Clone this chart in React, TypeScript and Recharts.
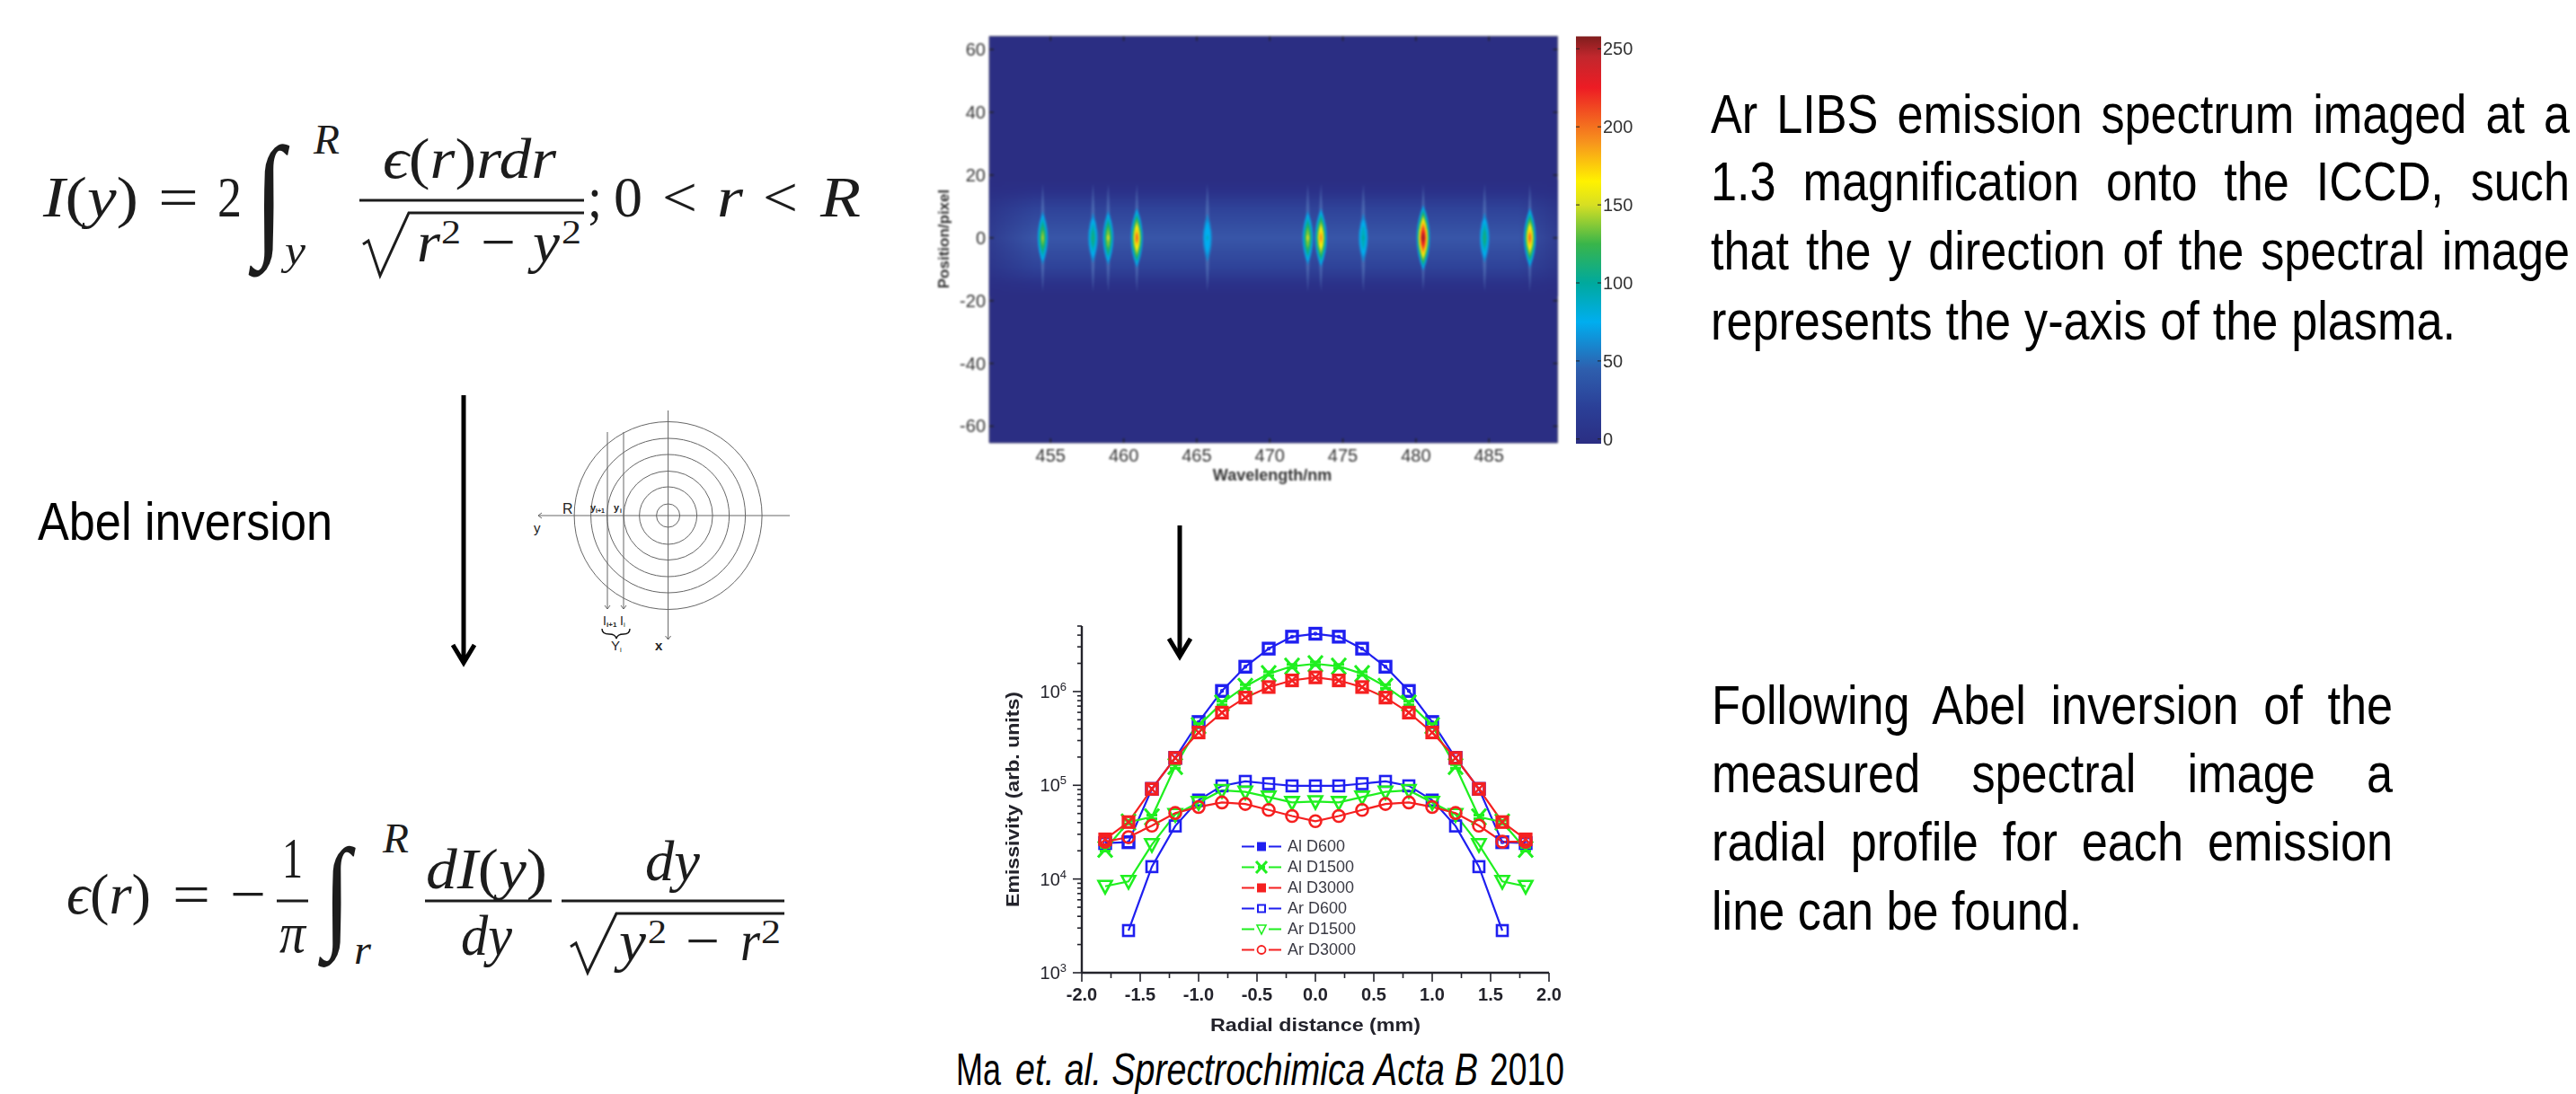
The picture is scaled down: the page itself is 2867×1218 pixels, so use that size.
import {
  Bar,
  BarChart,
  Legend,
  Line,
  LineChart,
  ReferenceArea,
  Scatter,
  ScatterChart,
  XAxis,
  YAxis,
} from "recharts";

// radial profiles, mm / arb. units
const radius = [-1.8, -1.6, -1.4, -1.2, -1.0, -0.8, -0.6, -0.4, -0.2, 0, 0.2, 0.4, 0.6, 0.8, 1.0, 1.2, 1.4, 1.6, 1.8];
const alD600 = [24150, 24700, 91500, 196000, 473000, 1015000, 1840000, 2870000, 3850000, 4140000, 3850000, 2870000, 1840000, 1015000, 473000, 196000, 91500, 24700, 24150];
const alD1500 = [20800, 40500, 45900, 159000, 433000, 755000, 1135000, 1550000, 1860000, 1980000, 1860000, 1550000, 1135000, 755000, 433000, 159000, 45900, 40500, 20800];
const alD3000 = [26500, 40500, 91500, 196000, 366000, 596000, 862000, 1117000, 1315000, 1416000, 1315000, 1117000, 862000, 596000, 366000, 196000, 91500, 40500, 26500];
const arD600 = [null, 2820, 13550, 36800, 69500, 98600, 110000, 104000, 98600, 98600, 98600, 104000, 110000, 98600, 69500, 36800, 13550, 2820, null];
const arD1500 = [8370, 9430, 23300, 48800, 65600, 88200, 84900, 75000, 65600, 67000, 65600, 75000, 84900, 88200, 65600, 48800, 23300, 9430, 8370];
const arD3000 = [25000, 28000, 37100, 50600, 58700, 65600, 63200, 54500, 47000, 41400, 47000, 54500, 63200, 65600, 58700, 50600, 37100, 25000, 25000];

const profileRows = radius.map((r, i) => ({
  r,
  alD600: alD600[i],
  alD1500: alD1500[i],
  alD3000: alD3000[i],
  arD600: arD600[i],
  arD1500: arD1500[i],
  arD3000: arD3000[i],
}));

const BLUE = "#1f1ff0";
const GREEN = "#1fef1f";
const RED = "#f52020";

const profileSeries = [
  { key: "alD600", name: "Al D600", color: BLUE, marker: "blueDot" },
  { key: "alD1500", name: "Al D1500", color: GREEN, marker: "star" },
  { key: "alD3000", name: "Al D3000", color: RED, marker: "redX" },
  { key: "arD600", name: "Ar D600", color: BLUE, marker: "square" },
  { key: "arD1500", name: "Ar D1500", color: GREEN, marker: "triangle" },
  { key: "arD3000", name: "Ar D3000", color: RED, marker: "circle" },
];

const radialTicks = [-2, -1.75, -1.5, -1.25, -1, -0.75, -0.5, -0.25, 0, 0.25, 0.5, 0.75, 1, 1.25, 1.5, 1.75, 2];
const emissivityTicks = [
  1000, 2000, 3000, 4000, 5000, 6000, 7000, 8000, 9000,
  10000, 20000, 30000, 40000, 50000, 60000, 70000, 80000, 90000,
  100000, 200000, 300000, 400000, 500000, 600000, 700000, 800000, 900000,
  1000000, 2000000, 3000000, 4000000, 5000000,
];

// spectral image
const lineWavelengths = [454.46, 457.9, 458.94, 460.9, 465.73, 472.6, 473.5, 476.4, 480.5, 484.7, 487.8];
const linePeaks = [140, 110, 150, 200, 90, 150, 190, 100, 250, 110, 200];
const emissionLines = lineWavelengths.map((wavelength, i) => ({ wavelength, position: 0, peak: linePeaks[i] }));
const wavelengthTicks = [455, 460, 465, 470, 475, 480, 485];
const positionTicks = [-60, -40, -20, 0, 20, 40, 60];
const colorbarTicks = [0, 50, 100, 150, 200, 250];
const colorbarRows = [{ name: "counts", range: [-3, 258] }];
const contourLevels = [60, 75, 90, 105, 120, 135, 150, 165, 180, 195, 210, 225, 240];

const jetValues = [-3, 20, 45, 75, 100, 125, 150, 165, 190, 225, 245, 258];
const jetColors = ["#2b2e83", "#2b3f97", "#2e5fae", "#00aeef", "#00a99d", "#39b54a", "#d7df23", "#fff200", "#f7941d", "#ed1c24", "#c1272d", "#7f1d1d"];

function hexToRgb(hex: string) {
  return [1, 3, 5].map((i) => parseInt(hex.slice(i, i + 2), 16));
}

function jet(v: number) {
  for (let i = 1; i < jetValues.length; i++) {
    if (v <= jetValues[i]) {
      const t = (v - jetValues[i - 1]) / (jetValues[i] - jetValues[i - 1]);
      const a = hexToRgb(jetColors[i - 1]);
      const b = hexToRgb(jetColors[i]);
      return `rgb(${a.map((c, k) => Math.round(c + (b[k] - c) * t)).join(",")})`;
    }
  }
  return jetColors[jetColors.length - 1];
}

const SANS = "'Liberation Sans', Arial, sans-serif";
const SERIF = "'Liberation Serif', serif";
const INK = "#23232b";

// main chart frame
const PROFILE_AXIS_X = 164;
const PROFILE_AXIS_Y = 403;

function Marker({ kind, cx, cy, color }: { kind: string; cx: number; cy: number; color: string }) {
  const common = { fill: "none", stroke: color, strokeWidth: 2.6 };
  if (kind === "blueDot")
    return (
      <g>
        <rect x={cx - 6} y={cy - 6} width={12} height={12} {...common} strokeWidth={3.4} />
        <circle cx={cx} cy={cy} r={1.6} fill="none" stroke={color} strokeWidth={1.2} />
      </g>
    );
  if (kind === "star")
    return (
      <path
        d={`M${cx - 8},${cy - 9}L${cx + 8},${cy + 9}M${cx + 8},${cy - 9}L${cx - 8},${cy + 9}M${cx - 6},${cy - 2}H${cx + 6}M${cx - 6},${cy + 2}H${cx + 6}`}
        {...common}
        strokeWidth={3}
      />
    );
  if (kind === "redX")
    return (
      <g>
        <rect x={cx - 6} y={cy - 6} width={12} height={12} {...common} strokeWidth={3.2} />
        <path d={`M${cx - 5},${cy - 5}L${cx + 5},${cy + 5}M${cx + 5},${cy - 5}L${cx - 5},${cy + 5}`} {...common} strokeWidth={2.4} />
      </g>
    );
  if (kind === "square") return <rect x={cx - 6} y={cy - 6} width={12} height={12} {...common} />;
  if (kind === "triangle")
    return <path d={`M${cx - 7.5},${cy - 6}H${cx + 7.5}L${cx},${cy + 8}Z`} {...common} />;
  return <circle cx={cx} cy={cy} r={6.5} {...common} />;
}

function ProfileYTick({ y, payload }: any) {
  const exponent = Math.log10(payload.value);
  const major = Math.abs(exponent - Math.round(exponent)) < 1e-6;
  return (
    <g>
      <line x1={PROFILE_AXIS_X - (major ? 10 : 5)} x2={PROFILE_AXIS_X} y1={y} y2={y} stroke={INK} strokeWidth={1.6} />
      {major && (
        <text x={PROFILE_AXIS_X - 17} y={y + 7} textAnchor="end" fontFamily={SANS} fontSize={20} fill={INK}>
          10
          <tspan dy={-8} fontSize={13}>
            {Math.round(exponent)}
          </tspan>
        </text>
      )}
    </g>
  );
}

function ProfileXTick({ x, payload }: any) {
  const major = Number.isInteger(payload.value * 2);
  return (
    <g>
      <line x1={x} x2={x} y1={PROFILE_AXIS_Y} y2={PROFILE_AXIS_Y + (major ? 10 : 6)} stroke={INK} strokeWidth={1.6} />
      {major && (
        <text x={x} y={PROFILE_AXIS_Y + 31} textAnchor="middle" fontFamily={SANS} fontSize={20} fontWeight={700} fill={INK}>
          {payload.value.toFixed(1)}
        </text>
      )}
    </g>
  );
}

function ProfileLegend() {
  return (
    <div>
      {profileSeries.map((s) => (
        <div key={s.key} style={{ height: 23, display: "flex", alignItems: "center" }}>
          <svg width={46} height={23}>
            <line x1={1} x2={45} y1={11.5} y2={11.5} stroke={s.color} strokeWidth={2.2} />
            <rect x={15} y={3} width={16} height={16} fill="#fff" />
            {s.marker === "blueDot" && <rect x={18} y={6.5} width={10} height={10} fill={s.color} />}
            {s.marker === "redX" && <rect x={18} y={6.5} width={10} height={10} fill={s.color} />}
            {s.marker === "star" && <path d="M17,5L29,18M29,5L17,18M19,11.5H27" stroke={s.color} strokeWidth={3} fill="none" />}
            {s.marker === "square" && <rect x={19} y={7.5} width={8} height={8} fill="none" stroke={s.color} strokeWidth={2} />}
            {s.marker === "triangle" && <path d="M18,7H28L23,17Z" fill="none" stroke={s.color} strokeWidth={1.6} />}
            {s.marker === "circle" && <circle cx={23} cy={11.5} r={4.5} fill="none" stroke={s.color} strokeWidth={1.8} />}
          </svg>
          <span style={{ marginLeft: 6, fontFamily: SANS, fontSize: 18, color: "#3a3a44", lineHeight: "23px", whiteSpace: "nowrap" }}>{s.name}</span>
        </div>
      ))}
    </div>
  );
}

function ProfileChart() {
  return (
    <div style={{ position: "absolute", left: 1040, top: 680, filter: "blur(0.55px)" }}>
      <LineChart width={720} height={500} data={profileRows} margin={{ top: 17, right: 36, bottom: 37, left: 0 }}>
        <XAxis
          dataKey="r"
          type="number"
          domain={[-2, 2]}
          ticks={radialTicks}
          interval={0}
          height={60}
          axisLine={{ stroke: INK, strokeWidth: 2.4 }}
          tickLine={false}
          tick={<ProfileXTick />}
        />
        <YAxis
          type="number"
          scale="log"
          domain={[1000, 5000000]}
          allowDataOverflow
          ticks={emissivityTicks}
          interval={0}
          width={PROFILE_AXIS_X}
          axisLine={{ stroke: INK, strokeWidth: 2.4 }}
          tickLine={false}
          tick={<ProfileYTick />}
        />
        <Legend
          layout="horizontal"
          align="center"
          verticalAlign="middle"
          content={<ProfileLegend />}
          wrapperStyle={{ left: 341, top: 251, width: 130 }}
        />
        {profileSeries.map((s) => (
          <Line
            key={s.key}
            dataKey={s.key}
            name={s.name}
            stroke={s.color}
            strokeWidth={2.2}
            isAnimationActive={false}
            connectNulls={false}
            dot={(p: any) =>
              p.value == null ? <g key={p.index} /> : <Marker key={p.index} kind={s.marker} cx={p.cx} cy={p.cy} color={s.color} />
            }
          />
        ))}
        <text x={424} y={468} textAnchor="middle" fontFamily={SANS} fontSize={21} fontWeight={700} fill={INK} textLength={234} lengthAdjust="spacingAndGlyphs">
          Radial distance (mm)
        </text>
        <text
          x={94}
          y={210}
          textAnchor="middle"
          transform="rotate(-90 94 210)"
          fontFamily={SANS}
          fontSize={21}
          fontWeight={700}
          fill={INK}
          textLength={240}
          lengthAdjust="spacingAndGlyphs"
        >
          Emissivity (arb. units)
        </text>
      </LineChart>
    </div>
  );
}

// spectral image frame
const HEAT_LEFT = 71;
const HEAT_WIDTH = 632.6;
const HEAT_TOP = 20.4;
const HEAT_HEIGHT = 452.6;

function EmissionLine({ cx, cy, payload }: any) {
  const P = payload.peak;
  const H = 27 + (P - 90) * 0.0625;
  const W = 5 + (P - 90) * 0.0156;
  const lens = (h: number, w: number) => `M${cx},${cy - h}Q${cx + 2 * w},${cy} ${cx},${cy + h}Q${cx - 2 * w},${cy} ${cx},${cy - h}Z`;
  const levels = contourLevels.filter((l) => l < P);
  return (
    <g>
      <path d={lens(60, 2.4)} fill="#6f9bd1" opacity={0.4} />
      {levels.map((l) => {
        const f = Math.pow((P + 12 - l) / (P + 12 - 60), 0.75);
        return <path key={l} d={lens(H * f, W * f)} fill={jet(l)} />;
      })}
      <path d={lens(H * 0.14, W * 0.2)} fill={jet(P)} />
    </g>
  );
}

function HeatYTick({ y, payload }: any) {
  return (
    <g>
      <line x1={HEAT_LEFT} x2={HEAT_LEFT + 5} y1={y} y2={y} stroke="#222" strokeWidth={1.4} />
      <line x1={HEAT_LEFT + HEAT_WIDTH - 5} x2={HEAT_LEFT + HEAT_WIDTH} y1={y} y2={y} stroke="#222" strokeWidth={1.4} />
      <text x={HEAT_LEFT - 4} y={y + 7} textAnchor="end" fontFamily={SANS} fontSize={20} fill="#333">
        {payload.value}
      </text>
    </g>
  );
}

function HeatXTick({ x, payload }: any) {
  return (
    <g>
      <line x1={x} x2={x} y1={HEAT_TOP} y2={HEAT_TOP + 5} stroke="#222" strokeWidth={1.4} />
      <line x1={x} x2={x} y1={HEAT_TOP + HEAT_HEIGHT - 5} y2={HEAT_TOP + HEAT_HEIGHT} stroke="#222" strokeWidth={1.4} />
      <text x={x} y={HEAT_TOP + HEAT_HEIGHT + 21} textAnchor="middle" fontFamily={SANS} fontSize={20} fill="#333">
        {payload.value}
      </text>
    </g>
  );
}

function SpectralImage() {
  return (
    <div style={{ position: "absolute", left: 1030, top: 20, filter: "blur(0.8px)" }}>
      <ScatterChart width={760} height={530} margin={{ top: HEAT_TOP, right: 56.4, bottom: 17, left: 0 }}>
        <defs>
          <linearGradient id="plasmaBand" x1="0" y1="0" x2="0" y2="1">
            <stop offset="0" stopColor="#2b2e83" />
            <stop offset="0.1" stopColor="#2b3189" />
            <stop offset="0.25" stopColor="#2f4399" />
            <stop offset="0.5" stopColor="#3856a8" />
            <stop offset="0.75" stopColor="#2f4399" />
            <stop offset="0.9" stopColor="#2b3189" />
            <stop offset="1" stopColor="#2b2e83" />
          </linearGradient>
          <linearGradient id="fadeLeft" x1="0" y1="0" x2="1" y2="0">
            <stop offset="0" stopColor="#2b2e83" stopOpacity={0.65} />
            <stop offset="1" stopColor="#2b2e83" stopOpacity={0} />
          </linearGradient>
          <linearGradient id="fadeRight" x1="0" y1="0" x2="1" y2="0">
            <stop offset="0" stopColor="#2b2e83" stopOpacity={0} />
            <stop offset="1" stopColor="#2b2e83" stopOpacity={0.65} />
          </linearGradient>
        </defs>
        <XAxis
          dataKey="wavelength"
          type="number"
          domain={[450.8, 489.7]}
          ticks={wavelengthTicks}
          interval={0}
          height={40}
          axisLine={false}
          tickLine={false}
          tick={<HeatXTick />}
        />
        <YAxis
          dataKey="position"
          type="number"
          domain={[-65.3, 64.2]}
          ticks={positionTicks}
          interval={0}
          width={HEAT_LEFT}
          axisLine={false}
          tickLine={false}
          tick={<HeatYTick />}
        />
        <ReferenceArea x1={450.8} x2={489.7} y1={-65.3} y2={64.2} fill="#2b2e83" fillOpacity={1} stroke="#55557a" />
        <ReferenceArea x1={450.8} x2={489.7} y1={-18.5} y2={18.5} fill="url(#plasmaBand)" fillOpacity={1} />
        <ReferenceArea x1={450.8} x2={454} y1={-18.5} y2={18.5} fill="url(#fadeLeft)" fillOpacity={1} />
        <ReferenceArea x1={487} x2={489.7} y1={-18.5} y2={18.5} fill="url(#fadeRight)" fillOpacity={1} />
        <Scatter data={emissionLines} isAnimationActive={false} shape={<EmissionLine />} />
        <text x={386} y={515} textAnchor="middle" fontFamily={SANS} fontSize={18} fontWeight={700} fill="#333">
          Wavelength/nm
        </text>
        <text x={26} y={246} textAnchor="middle" transform="rotate(-90 26 246)" fontFamily={SANS} fontSize={17} fontWeight={700} fill="#333">
          Position/pixel
        </text>
      </ScatterChart>
    </div>
  );
}

function ColorbarTick({ y, payload }: any) {
  return (
    <g>
      <line x1={14} x2={18} y1={y} y2={y} stroke="#222" strokeWidth={1} />
      <line x1={38} x2={42} y1={y} y2={y} stroke="#222" strokeWidth={1} />
      <text x={44} y={y + 7} fontFamily={SANS} fontSize={20} fill="#333">
        {payload.value}
      </text>
    </g>
  );
}

function Colorbar() {
  return (
    <div style={{ position: "absolute", left: 1740, top: 20, filter: "blur(0.7px)" }}>
      <BarChart width={90} height={530} data={colorbarRows} barCategoryGap={0} margin={{ top: 20.4, right: 0, bottom: 56, left: 14 }}>
        <defs>
          <linearGradient id="jetScale" x1="0" y1="1" x2="0" y2="0">
            {jetValues.map((v, i) => (
              <stop key={v} offset={(v + 3) / 261} stopColor={jetColors[i]} />
            ))}
          </linearGradient>
        </defs>
        <XAxis dataKey="name" hide />
        <YAxis
          orientation="right"
          type="number"
          domain={[-3, 258]}
          ticks={colorbarTicks}
          interval={0}
          width={48}
          axisLine={false}
          tickLine={false}
          tick={<ColorbarTick />}
        />
        <Bar dataKey="range" fill="url(#jetScale)" isAnimationActive={false} />
      </BarChart>
    </div>
  );
}

function M({ x, y, w, size = 64, italic, children }: any) {
  return (
    <text x={x} y={y} fontFamily={SERIF} fontSize={size} fontStyle={italic ? "italic" : "normal"} textLength={w} lengthAdjust="spacingAndGlyphs" fill="#1c1c1c">
      {children}
    </text>
  );
}

function Integral({ x, top, bottom }: { x: number; top: number; bottom: number }) {
  const size = (bottom - top) / 0.98;
  return (
    <text
      x={0}
      y={0}
      transform={`translate(${x} ${bottom - size * 0.21}) scale(0.8 1)`}
      fontFamily={SERIF}
      fontSize={size}
      fill="#1c1c1c"
    >
      ∫
    </text>
  );
}

function Equations() {
  return (
    <g>
      <M x={48} y={241} w={106}>
        <tspan fontStyle="italic">I</tspan>(<tspan fontStyle="italic">y</tspan>)
      </M>
      <M x={176} y={241} w={45}>=</M>
      <M x={242} y={241} w={27}>2</M>
      <Integral x={283} top={152} bottom={300} />
      <M x={349} y={171} w={29} size={46} italic>R</M>
      <M x={317} y={294} w={23} size={46} italic>y</M>
      <M x={426} y={198} w={193}>
        <tspan fontStyle="italic">ϵ</tspan>(<tspan fontStyle="italic">r</tspan>)<tspan fontStyle="italic">rdr</tspan>
      </M>
      <rect x={400} y={221.5} width={250} height={3} fill="#1c1c1c" />
      <path d="M404,272L410,268L423,307L455,237H650" fill="none" stroke="#1c1c1c" strokeWidth={3} />
      <M x={464} y={291} w={26} italic>r</M>
      <M x={491} y={271} w={22} size={38}>2</M>
      <M x={535} y={291} w={39}>−</M>
      <M x={593} y={291} w={30} italic>y</M>
      <M x={625} y={271} w={22} size={38}>2</M>
      <M x={654} y={241} w={16}>;</M>
      <M x={683} y={241} w={32}>0</M>
      <M x={737} y={241} w={39}>{"<"}</M>
      <M x={798} y={241} w={29} italic>r</M>
      <M x={849} y={241} w={39}>{"<"}</M>
      <M x={913} y={241} w={45} italic>R</M>

      <M x={74} y={1017} w={94}>
        <tspan fontStyle="italic">ϵ</tspan>(<tspan fontStyle="italic">r</tspan>)
      </M>
      <M x={192} y={1017} w={42}>=</M>
      <M x={256} y={1017} w={40}>−</M>
      <M x={314} y={977} w={23}>1</M>
      <rect x={308} y={1001.5} width={35} height={3} fill="#1c1c1c" />
      <M x={311} y={1060} w={29} italic>π</M>
      <Integral x={360} top={934} bottom={1069} />
      <M x={426} y={949} w={29} size={46} italic>R</M>
      <M x={394} y={1073} w={19} size={46} italic>r</M>
      <M x={474} y={989} w={135}>
        <tspan fontStyle="italic">dI</tspan>(<tspan fontStyle="italic">y</tspan>)
      </M>
      <rect x={473} y={1001.5} width={141} height={3} fill="#1c1c1c" />
      <M x={513} y={1063} w={57} italic>dy</M>
      <M x={718} y={980} w={61} italic>dy</M>
      <rect x={625} y={1001.5} width={248} height={3} fill="#1c1c1c" />
      <path d="M635,1054L641,1050L654,1083L686,1017H873" fill="none" stroke="#1c1c1c" strokeWidth={3} />
      <M x={689} y={1069} w={30} italic>y</M>
      <M x={721} y={1050} w={21} size={38}>2</M>
      <M x={763} y={1069} w={38}>−</M>
      <M x={824} y={1069} w={22} italic>r</M>
      <M x={847} y={1050} w={22} size={38}>2</M>
    </g>
  );
}

const ringRadii = [13, 32, 49.5, 68, 86, 104.5];

function RingDiagram() {
  const cx = 743.6;
  const cy = 574;
  const line = { stroke: "#666", strokeWidth: 1, fill: "none" };
  const label = { fontFamily: SANS, fill: "#222" };
  return (
    <g>
      {ringRadii.map((r) => (
        <circle key={r} cx={cx} cy={cy} r={r} {...line} />
      ))}
      <path d={`M599,${cy}H879M${cx},457V712`} {...line} />
      <path d={`M603,${cy - 3}L599,${cy}L603,${cy + 3}M${cx - 3},708L${cx},712L${cx + 3},708`} {...line} />
      <path d="M676,481V678M694,481V678M673,674L676,678L679,674M691,674L694,678L697,674" {...line} />
      <path d="M670,700Q670,706 678,706Q685,706 686,711Q687,706 694,706Q701,706 701,700" stroke="#111" strokeWidth={1.4} fill="none" />
      <text x={626} y={572} fontSize={16} {...label}>R</text>
      <text x={657} y={569} fontSize={11} fontWeight={700} {...label}>y</text>
      <text x={663} y={571} fontSize={7} fontWeight={700} {...label}>i+1</text>
      <text x={683} y={569} fontSize={11} fontWeight={700} {...label}>y</text>
      <text x={690} y={571} fontSize={7} fontWeight={700} {...label}>i</text>
      <text x={594} y={593} fontSize={15} {...label}>y</text>
      <text x={671} y={696} fontSize={14} {...label}>I</text>
      <text x={675} y={698} fontSize={8} fontWeight={700} {...label}>i+1</text>
      <text x={690} y={696} fontSize={14} {...label}>I</text>
      <text x={694} y={698} fontSize={8} {...label}>i</text>
      <text x={680} y={724} fontSize={15} {...label}>Y</text>
      <text x={690} y={726} fontSize={8} {...label}>i</text>
      <text x={729} y={724} fontSize={15} fontWeight={700} {...label}>x</text>
    </g>
  );
}

function Arrow({ x, y1, y2 }: { x: number; y1: number; y2: number }) {
  return (
    <path
      d={`M${x},${y1}V${y2 - 2}M${x - 12},${y2 - 22}L${x},${y2 - 2}L${x + 12},${y2 - 22}`}
      fill="none"
      stroke="#000"
      strokeWidth={5}
    />
  );
}

function TextLine({ x, baseline, w, text }: { x: number; baseline: number; w: number; text: string }) {
  const scale = 0.856;
  return (
    <div
      style={{
        position: "absolute",
        left: x,
        top: baseline - 56,
        width: w / scale,
        height: 70,
        lineHeight: "70px",
        fontFamily: SANS,
        fontSize: 61,
        color: "#000",
        whiteSpace: "nowrap",
        textAlign: "justify",
        textAlignLast: "justify",
        transform: `scaleX(${scale})`,
        transformOrigin: "0 0",
      }}
    >
      {text}
    </div>
  );
}

export default function App() {
  const caption = { y: 1208, fontFamily: SANS, fontSize: 50, lengthAdjust: "spacingAndGlyphs" };
  return (
    <div style={{ position: "absolute", left: 0, top: 0, width: 2867, height: 1218, background: "#fff", overflow: "hidden" }}>
      <svg width={2867} height={1218} style={{ position: "absolute", left: 0, top: 0 }}>
        <Equations />
        <RingDiagram />
        <Arrow x={516} y1={440} y2={740} />
        <Arrow x={1313} y1={585} y2={733} />
        <text x={42} y={601} fontFamily={SANS} fontSize={60} textLength={328} lengthAdjust="spacingAndGlyphs">
          Abel inversion
        </text>
        <text x={1064} textLength={50} {...caption}>Ma</text>
        <text x={1130} textLength={515} fontStyle="italic" {...caption}>et. al. Sprectrochimica Acta B</text>
        <text x={1658} textLength={83} {...caption}>2010</text>
      </svg>
      <SpectralImage />
      <Colorbar />
      <ProfileChart />
      <TextLine x={1904} baseline={148} w={956} text="Ar LIBS emission spectrum imaged at a" />
      <TextLine x={1904} baseline={223} w={956} text="1.3 magnification onto the ICCD, such" />
      <TextLine x={1904} baseline={300} w={956} text="that the y direction of the spectral image" />
      <TextLine x={1904} baseline={378} w={829} text="represents the y-axis of the plasma." />
      <TextLine x={1905} baseline={806} w={758} text="Following Abel inversion of the" />
      <TextLine x={1905} baseline={882} w={758} text="measured spectral image a" />
      <TextLine x={1905} baseline={958} w={758} text="radial profile for each emission" />
      <TextLine x={1905} baseline={1035} w={411} text="line can be found." />
    </div>
  );
}
